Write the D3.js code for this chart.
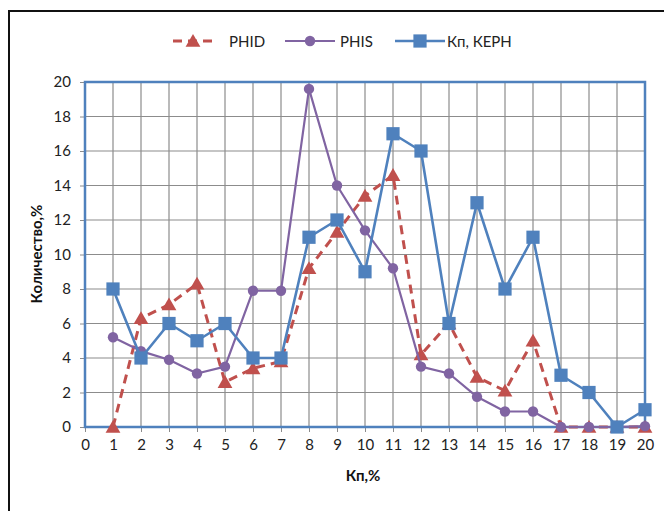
<!DOCTYPE html>
<html>
<head>
<meta charset="utf-8">
<script src="https://cdn.jsdelivr.net/npm/d3@7"></script>
<style>
  html, body { margin: 0; padding: 0; background: #fff; }
  svg { display: block; font-family: Lato, "Open Sans", sans-serif; }
</style>
</head>
<body>
<svg id="chart" width="664" height="511"></svg>
<script>
// Porosity classes, Кп %
const categories = d3.range(1, 21);
// Distribution shares, %
const phid = [0, 6.3, 7.1, 8.3, 2.6, 3.4, 3.8, 9.2, 11.3, 13.4, 14.6, 4.2, 6.0, 2.9, 2.1, 5.0, 0, 0, 0, 0];
const phis = [5.2, 4.4, 3.9, 3.1, 3.5, 7.9, 7.9, 19.6, 14.0, 11.4, 9.2, 3.5, 3.1, 1.75, 0.9, 0.9, 0, 0, 0, 0.05];
const kern = [8, 4, 6, 5, 6, 4, 4, 11, 12, 9, 17, 16, 6, 13, 8, 11, 3, 2, 0, 1];
const xTicks = d3.range(0, 21);
const yTicks = d3.range(0, 21, 2);
const seriesNames = ["PHID", "PHIS", "Кп, КЕРН"];

const svg = d3.select("#chart");
const m = { left: 85, right: 645, top: 82, bottom: 427 };

// outer frame (runs off the right and bottom edges)
svg.append("rect")
  .attr("x", 9).attr("y", 11).attr("width", 700).attr("height", 560)
  .attr("fill", "none").attr("stroke", "#111").attr("stroke-width", 2);

const x = d3.scaleLinear().domain([0, 20]).range([m.left, m.right]);
const y = d3.scaleLinear().domain([0, 20]).range([m.bottom, m.top]);

// grid
const grid = svg.append("g");
grid.selectAll("line.v").data(xTicks.filter(d => d > 0 && d < 20)).join("line")
  .attr("x1", d => x(d)).attr("x2", d => x(d))
  .attr("y1", m.top).attr("y2", m.bottom)
  .attr("stroke", "#8c8c8c").attr("stroke-width", 1.2);
grid.selectAll("line.h").data(yTicks.filter(d => d > 0 && d < 20)).join("line")
  .attr("x1", m.left).attr("x2", m.right)
  .attr("y1", d => y(d)).attr("y2", d => y(d))
  .attr("stroke", "#8c8c8c").attr("stroke-width", 1.2);

// axes
const yAxis = svg.append("g").attr("transform", `translate(${m.left},0)`)
  .call(d3.axisLeft(y).tickValues(yTicks).tickSize(5).tickPadding(9));
const xAxis = svg.append("g").attr("transform", `translate(0,${m.bottom})`)
  .call(d3.axisBottom(x).tickValues(xTicks).tickSize(5).tickPadding(7));
[yAxis, xAxis].forEach(a => {
  a.select(".domain").remove();
  a.selectAll(".tick line").attr("stroke", "#8c8c8c");
  a.selectAll(".tick text").attr("fill", "#222").style("font-size", "15px")
    .style("font-family", "Lato, 'Open Sans', sans-serif");
});

// plot area border
svg.append("rect")
  .attr("x", m.left).attr("y", m.top)
  .attr("width", m.right - m.left).attr("height", m.bottom - m.top)
  .attr("fill", "none").attr("stroke", "#4F81BD").attr("stroke-width", 2.5);

// axis titles
svg.append("text").attr("x", 363).attr("y", 481).attr("text-anchor", "middle")
  .style("font-weight", "bold").style("font-size", "15px").attr("fill", "#111").text("Кп,%");
svg.append("text").attr("transform", "translate(42,254) rotate(-90)").attr("text-anchor", "middle")
  .style("font-weight", "bold").style("font-size", "15px").attr("fill", "#111").text("Количество,%");

const triangle = d3.symbol().type(d3.symbolTriangle).size(95);
const square = d3.symbol().type(d3.symbolSquare).size(175);
const circle = d3.symbol().type(d3.symbolCircle).size(85);

const series = [
  { name: seriesNames[0], values: phid, color: "#C0504D", width: 3, dash: "9,6", sym: triangle, dy: 1.5 },
  { name: seriesNames[1], values: phis, color: "#8064A2", width: 2.2, dash: null, sym: circle, dy: 0 },
  { name: seriesNames[2], values: kern, color: "#4F81BD", width: 2.6, dash: null, sym: square, dy: 0 }
];

const line = d3.line().x((d, i) => x(categories[i])).y(d => y(d));

series.forEach(s => {
  const g = svg.append("g");
  g.append("path").datum(s.values).attr("d", line)
    .attr("fill", "none").attr("stroke", s.color).attr("stroke-width", s.width)
    .attr("stroke-dasharray", s.dash).attr("stroke-linejoin", "round");
  g.selectAll("path.mk").data(s.values).join("path").attr("class", "mk")
    .attr("d", s.sym)
    .attr("transform", (d, i) => `translate(${x(categories[i])},${y(d) + s.dy})`)
    .attr("fill", s.color);
});

// legend
const legendItems = [
  { s: series[0], x0: 173, x1: 213, tx: 229 },
  { s: series[1], x0: 285, x1: 335, tx: 340 },
  { s: series[2], x0: 395, x1: 445, tx: 447 }
];
const lg = svg.append("g");
legendItems.forEach(it => {
  const ly = 41;
  lg.append("line").attr("x1", it.x0).attr("x2", it.x1).attr("y1", ly).attr("y2", ly)
    .attr("stroke", it.s.color).attr("stroke-width", it.s.width)
    .attr("stroke-dasharray", it.s.s === undefined && it.s.dash ? it.s.dash : it.s.dash ? "13,8" : null);
  lg.append("path").attr("d", it.s.sym)
    .attr("transform", `translate(${(it.x0 + it.x1) / 2},${ly + it.s.dy})`)
    .attr("fill", it.s.color);
  lg.append("text").attr("x", it.tx).attr("y", ly + 5.5)
    .style("font-size", "15px").attr("fill", "#222").text(it.s.name);
});
</script>
</body>
</html>
